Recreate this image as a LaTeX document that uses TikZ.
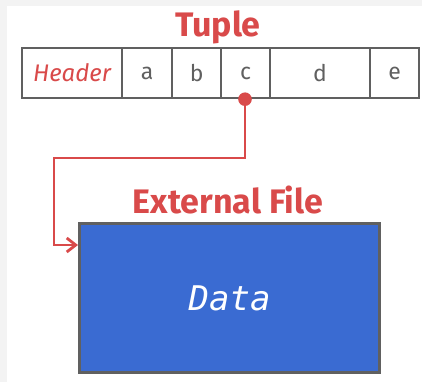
\documentclass[tikz,border=0pt]{standalone}
\usepackage{fontspec}
\setmainfont{Fira Sans}
\setmonofont{DejaVu Sans Mono}
\usetikzlibrary{arrows.meta}
\definecolor{tred}{HTML}{D94A4A}
\definecolor{tgray}{HTML}{606060}
\definecolor{tblue}{HTML}{3A6BD2}
\definecolor{tbg}{HTML}{F3F3F3}
\tikzset{
  cell/.style={draw=tgray, line width=2.2pt, minimum height=50pt, inner sep=0pt, font=\fontsize{23}{25}\selectfont, text=tgray, anchor=north west},
  title/.style={font=\fontsize{34}{36}\selectfont\bfseries, text=tred},
  link/.style={draw=tred, line width=2.8pt},
}
\begin{document}
\begin{tikzpicture}[x=1pt,y=-1pt]
\useasboundingbox (0,0) rectangle (422,382);
\fill[tbg] (0,0) rectangle (422,382);
\fill[white] (7,6) rectangle (422,382);
\node[title] (tuple) at (218,27) {Tuple};
\node[cell, minimum width=100pt, text=tred, font=\fontsize{24}{26}\selectfont\itshape] (h) at (21,47) {Header};
\node[cell, minimum width=50pt] (a) at (121,47) {a};
\node[cell, minimum width=49pt] (b) at (171,47) {b};
\node[cell, minimum width=49pt] (c) at (220,47) {c};
\node[cell, minimum width=100pt] (d) at (269,47) {d};
\node[cell, minimum width=49pt] (e) at (369,47) {e};
\node[title] (ext) at (228,200) {External File};
\node[draw=tgray, line width=3.2pt, fill=tblue, minimum width=300pt, minimum height=149pt, anchor=north west, inner sep=0pt, text=white, font=\fontsize{34}{36}\selectfont\ttfamily\itshape] (data) at (78,222) {Data};
\coordinate (dot) at (c.south -| 245,0);
\draw[link, -{Straight Barb[length=9pt,width=14pt,line width=2.8pt]}] (dot) |- (54,158) |- (data.west |- 0,245);
\fill[tred] (dot) circle (6.8pt);
\end{tikzpicture}
\end{document}
